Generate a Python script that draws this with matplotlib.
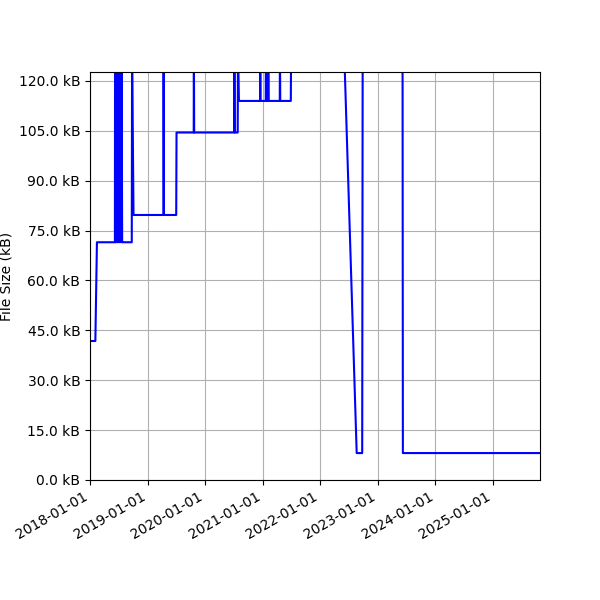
import pandas as pd
import matplotlib
matplotlib.use("Agg")
import matplotlib.pyplot as plt
import matplotlib.dates as mdates
from matplotlib.ticker import MultipleLocator, FuncFormatter

# fecha de cada commit y tamano del archivo (kB)
fechas = [
    "2018-01-03", "2018-02-04", "2018-02-14", "2018-06-08",
    "2018-06-09", "2018-06-13", "2018-06-17", "2018-06-21", "2018-06-25", "2018-06-28",
    "2018-07-04", "2018-07-08", "2018-07-12", "2018-07-16", "2018-07-20", "2018-07-24",
    "2018-07-27", "2018-09-23", "2018-09-25", "2018-10-04",
    "2019-04-12", "2019-04-13", "2019-04-15", "2019-07-02", "2019-07-04",
    "2019-10-21", "2019-10-22", "2019-10-24",
    "2020-07-03", "2020-07-05", "2020-07-08", "2020-07-26", "2020-07-28", "2020-08-03",
    "2020-12-15", "2020-12-16", "2020-12-18",
    "2021-01-20", "2021-01-21", "2021-01-23", "2021-02-04", "2021-02-05", "2021-02-07",
    "2021-04-19", "2021-04-20", "2021-04-22", "2021-06-28", "2021-06-30",
    "2022-06-01", "2022-08-20", "2022-09-24", "2022-09-27",
    "2023-06-07", "2023-06-09", "2025-10-26",
]
tamanos = [
    41.8, 41.8, 71.5, 71.5,
    130, 71.5, 130, 71.5, 130, 71.5,
    130, 71.5, 130, 71.5, 130, 71.5,
    71.5, 71.5, 130, 79.7,
    79.7, 130, 79.7, 79.7, 104.5,
    104.5, 130, 104.5,
    104.5, 130, 104.5, 104.5, 130, 114,
    114, 130, 114,
    114, 130, 114, 114, 130, 114,
    114, 130, 114, 114, 130,
    130, 8.1, 8.1, 130,
    130, 8.1, 8.1,
]

df = pd.DataFrame({"fecha": pd.to_datetime(fechas), "kb": tamanos})

fig, ax = plt.subplots(figsize=(6, 6), dpi=100)
ax.plot(df["fecha"], df["kb"], color="blue", linewidth=1.5)
ax.set_xlim(pd.Timestamp("2018-01-01"), pd.Timestamp("2025-10-26"))
ax.set_ylim(0, 122.7)
ax.yaxis.set_major_locator(MultipleLocator(15))
ax.yaxis.set_major_formatter(FuncFormatter(lambda v, p: "%.1f kB" % v))
ax.xaxis.set_major_locator(mdates.YearLocator())
ax.xaxis.set_major_formatter(mdates.DateFormatter("%Y-%m-%d"))
ax.set_ylabel("File Size (kB)")
ax.grid(True)
fig.autofmt_xdate()
fig.subplots_adjust(left=0.15, right=0.9, bottom=0.2, top=0.88)
plt.savefig("out.png")
